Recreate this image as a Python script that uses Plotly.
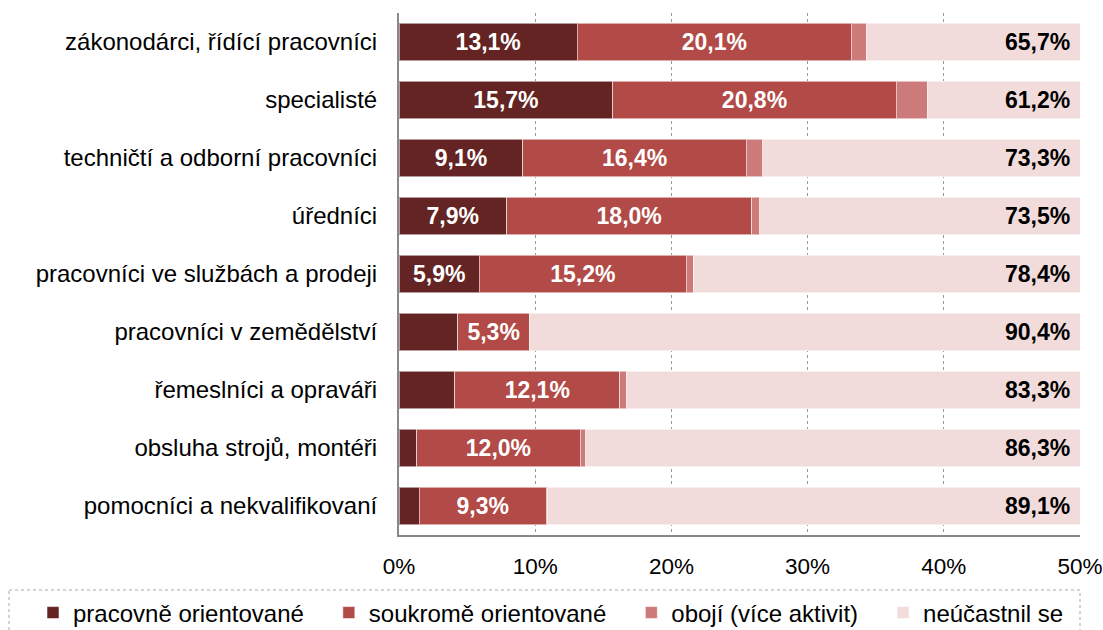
import plotly.graph_objects as go

categories = [
    "zákonodárci, řídící pracovníci",
    "specialisté",
    "techničtí a odborní pracovníci",
    "úředníci",
    "pracovníci ve službách a prodeji",
    "pracovníci v zemědělství",
    "řemeslníci a opraváři",
    "obsluha strojů, montéři",
    "pomocníci a nekvalifikovaní",
]
pracovne = [13.1, 15.7, 9.1, 7.9, 5.9, 4.3, 4.1, 1.3, 1.5]
soukrome = [20.1, 20.8, 16.4, 18.0, 15.2, 5.3, 12.1, 12.0, 9.3]
oboji = [1.1, 2.3, 1.2, 0.6, 0.5, 0.0, 0.5, 0.4, 0.1]
neucast = [65.7, 61.2, 73.3, 73.5, 78.4, 90.4, 83.3, 86.3, 89.1]

series_names = ["pracovně orientované", "soukromě orientované", "obojí (více aktivit)", "neúčastnil se"]
colors = ["#632423", "#B24A47", "#CC7A7A", "#F2DCDB"]
tick_vals = [0, 10, 20, 30, 40, 50]
tick_text = ["0%", "10%", "20%", "30%", "40%", "50%"]

FONT = "Liberation Sans, Arial, sans-serif"
LEGEND_PAD = "\u00a0\u00a0\u00a0"


def fmt(v):
    return f"{v:.1f}".replace(".", ",") + "%"


fig = go.Figure()
values = [pracovne, soukrome, oboji, neucast]
for i, (name, vals, col) in enumerate(zip(series_names, values, colors)):
    if i == 0:
        txt = [fmt(v) if v >= 5 else "" for v in vals]
    elif i == 1:
        txt = [fmt(v) for v in vals]
    else:
        txt = None
    fig.add_trace(go.Bar(
        y=categories, x=vals, name=name + LEGEND_PAD, orientation="h",
        marker=dict(color=col, line=dict(color="rgba(255,255,255,0.55)", width=1)),
        text=txt, textposition="inside" if txt else "none",
        insidetextanchor="middle",
        textfont=dict(family=FONT, size=23, color="white", weight="bold"),
        textangle=0,
        hoverinfo="x",
    ))

for cat, v in zip(categories, neucast):
    fig.add_annotation(
        x=50, y=cat, xref="x", yref="y", text=f"<b>{fmt(v)}</b>",
        showarrow=False, xanchor="right", xshift=-8,
        font=dict(family=FONT, size=23, color="black"),
    )

plot_left, plot_right, plot_top, plot_bottom = 399, 1080, 13, 535
W, H = 1103, 630
pw = plot_right - plot_left
ph = plot_bottom - plot_top


def px_x(x):
    return (x - plot_left) / pw


def px_y(y):
    return (plot_bottom - y) / ph


fig.add_shape(
    type="rect", xref="paper", yref="paper",
    x0=px_x(9), x1=px_x(1080), y0=px_y(590), y1=px_y(640),
    line=dict(color="#AAAAAA", width=1, dash="dot"), fillcolor="rgba(0,0,0,0)",
    layer="below",
)

fig.update_layout(
    width=W, height=H,
    margin=dict(l=plot_left, r=W - plot_right, t=plot_top, b=H - plot_bottom, autoexpand=False),
    barmode="stack", bargap=0.36,
    plot_bgcolor="white", paper_bgcolor="white",
    font=dict(family=FONT, size=22, color="black"),
    showlegend=True,
    legend=dict(
        orientation="h", x=px_x(33), xanchor="left", y=px_y(613), yanchor="middle",
        font=dict(family=FONT, size=24, color="black"),
        bgcolor="rgba(0,0,0,0)", traceorder="normal",
    ),
)
fig.update_xaxes(
    range=[0, 50], tickvals=tick_vals, ticktext=tick_text,
    showgrid=True, gridcolor="#9A9A9A", griddash="dot", gridwidth=1,
    showline=True, linecolor="#888888", linewidth=2,
    zeroline=False, ticks="", ticklabelstandoff=10,
    tickfont=dict(family=FONT, size=22.5, color="black"),
    fixedrange=True,
)
fig.update_yaxes(
    autorange="reversed", showgrid=False,
    showline=True, linecolor="#888888", linewidth=2,
    ticks="", ticklabelstandoff=15,
    tickfont=dict(family=FONT, size=24, color="black"),
    fixedrange=True,
)

fig.write_html(
    "out.html",
    config={"displayModeBar": False},
    post_script="document.body.style.margin='0';document.body.style.overflow='hidden';",
)
